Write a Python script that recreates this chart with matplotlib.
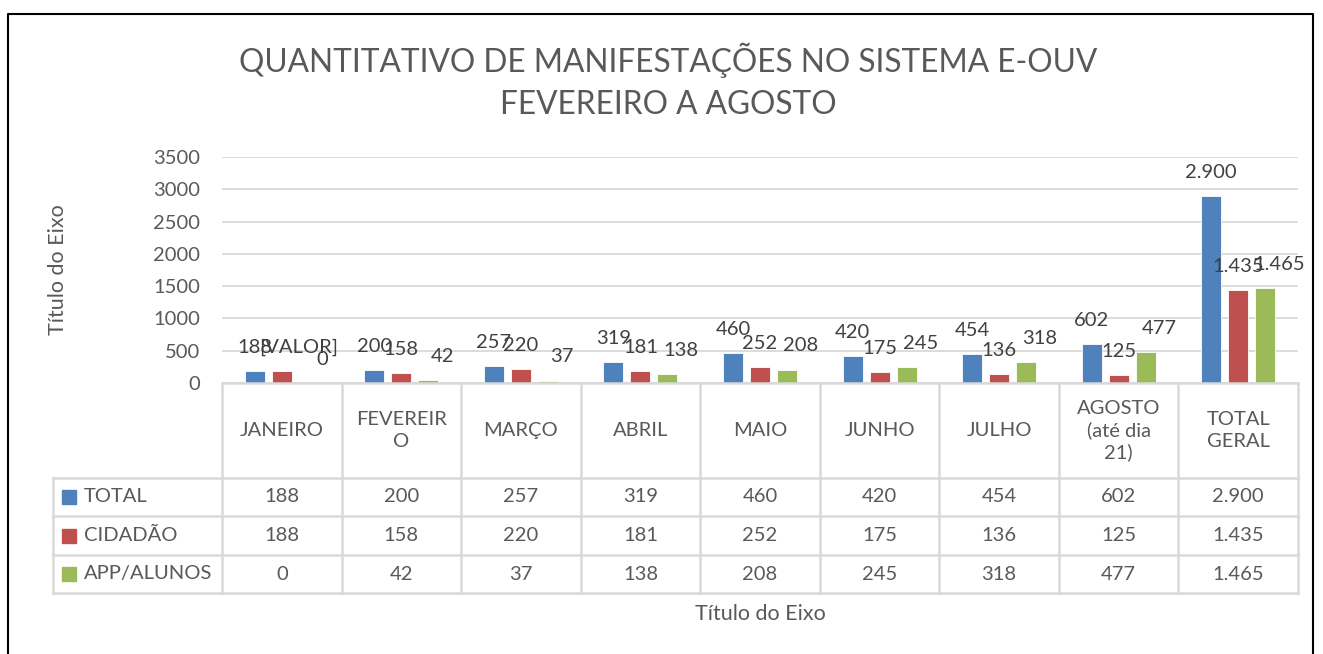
import numpy as np
import matplotlib
matplotlib.use("Agg")
import matplotlib.pyplot as plt
from matplotlib.patches import Rectangle

plt.rcParams['font.family'] = ['Lato', 'DejaVu Sans']

# data
months = ["JANEIRO", "FEVEREIR\nO", "MARÇO", "ABRIL", "MAIO", "JUNHO", "JULHO",
          "AGOSTO\n(até dia\n21)", "TOTAL\nGERAL"]
series_names = ["TOTAL", "CIDADÃO", "APP/ALUNOS"]
total = [188, 200, 257, 319, 460, 420, 454, 602, 2900]
cidadao = [188, 158, 220, 181, 252, 175, 136, 125, 1435]
app_alunos = [0, 42, 37, 138, 208, 245, 318, 477, 1465]
yticks = [0, 500, 1000, 1500, 2000, 2500, 3000, 3500]

colors = ["#4F81BD", "#C0504D", "#9BBB59"]
text_col = "#595959"
grid_col = "#D9D9D9"


def fmt(v):
    return f"{v:,}".replace(",", ".")


W, H = 1323, 654
fig = plt.figure(figsize=(W / 100, H / 100), dpi=100)

# plot area in pixel coordinates
x0, x1, ybase, ytop = 222, 1298, 383, 157
ax = fig.add_axes([x0 / W, 1 - ybase / H, (x1 - x0) / W, (ybase - ytop) / H])

all_series = [total, cidadao, app_alunos]
n = len(months)
x = np.arange(n)
bw = 0.167
step = 0.226
for i, vals in enumerate(all_series):
    xs = x + (i - 1) * step
    ax.bar(xs, vals, bw, color=colors[i], edgecolor="white", linewidth=0.6, zorder=3)
    for j, v in enumerate(vals):
        lab = fmt(v)
        dx = 10 if i == 2 else 0
        if i == 1 and j == 0:
            lab = "[VALOR]"  # label left as placeholder in the original
            dx = 12
        ax.annotate(lab, (xs[j], v), xytext=(dx, 17), textcoords="offset points",
                    ha="center", va="center", fontsize=14.5, color="#404040", zorder=4)

ax.set_xlim(-0.5, n - 0.5)
ax.set_ylim(0, 3500)
ax.set_yticks(yticks)
ax.set_yticklabels([str(t) for t in yticks], fontsize=14.5, color=text_col)
ax.set_xticks([])
ax.tick_params(axis="y", length=0, pad=16)
ax.grid(axis="y", color=grid_col, linewidth=1.3, zorder=0)
for s in ax.spines.values():
    s.set_visible(False)

# overlay in pixel coordinates for title, table and border
ov = fig.add_axes([0, 0, 1, 1], zorder=5)
ov.set_xlim(0, W)
ov.set_ylim(H, 0)
ov.axis("off")
ov.patch.set_alpha(0)

ov.text(668, 81, "QUANTITATIVO DE MANIFESTAÇÕES NO SISTEMA E-OUV\nFEVEREIRO A AGOSTO",
        ha="center", va="center", fontsize=22.8, color=text_col, linespacing=1.5)

ov.text(58, 270, "Título do Eixo", ha="center", va="center", rotation=90,
        fontsize=15.5, color=text_col)

# data table below the plot
cw = (x1 - x0) / n
col_edges = [x0 + k * cw for k in range(n + 1)]
row_edges = [ybase, 478, 516, 555, 593]
left = 53
lc = dict(color=grid_col, linewidth=1.8)
ov.plot([x0, x1], [ybase, ybase], **lc)
for cx in col_edges:
    ov.plot([cx, cx], [ybase, row_edges[-1]], **lc)
for ry in row_edges[1:]:
    ov.plot([left, x1], [ry, ry], **lc)
ov.plot([left, left], [row_edges[1], row_edges[-1]], **lc)

for j, m in enumerate(months):
    ov.text((col_edges[j] + col_edges[j + 1]) / 2, (row_edges[0] + row_edges[1]) / 2, m,
            ha="center", va="center", fontsize=14.5, color=text_col, linespacing=1.3)

for i, vals in enumerate(all_series):
    yc = (row_edges[i + 1] + row_edges[i + 2]) / 2
    ov.add_patch(Rectangle((62, yc - 7), 14, 14, color=colors[i]))
    ov.text(84, yc, series_names[i], ha="left", va="center", fontsize=14.5, color=text_col)
    for j, v in enumerate(vals):
        ov.text((col_edges[j] + col_edges[j + 1]) / 2, yc, fmt(v),
                ha="center", va="center", fontsize=14.5, color=text_col)

ov.text(760, 614, "Título do Eixo", ha="center", va="center", fontsize=15.5, color=text_col)

# chart border
ov.plot([8, 8, 1313, 1313], [H + 5, 14, 14, H + 5], color="black", linewidth=1.5,
        clip_on=False)

fig.savefig("out.png", dpi=100)
